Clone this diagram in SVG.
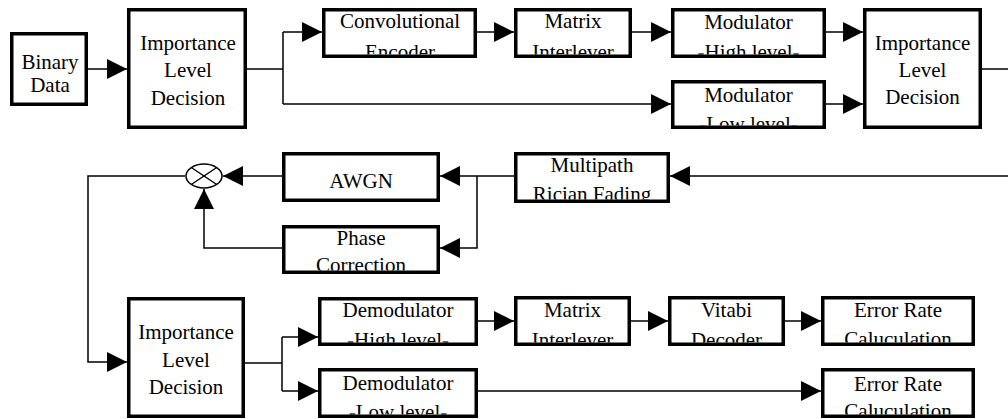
<svg xmlns="http://www.w3.org/2000/svg" width="1008" height="419" viewBox="0 0 1008 419">
<style>
.box{fill:#fff;stroke:#000;stroke-width:3.5}
.t{font-family:'Times New Roman','Liberation Serif','DejaVu Serif',serif;font-size:21px;fill:#000;text-anchor:middle}
.ln{fill:none;stroke:#000;stroke-width:1.5}
.ar{marker-end:url(#ah)}
</style>
<defs>
<marker id="ah" markerUnits="userSpaceOnUse" markerWidth="20" markerHeight="20" refX="20" refY="10" orient="auto" overflow="visible">
<path d="M0,0 L20,10 L0,20 Z" fill="#000"/>
</marker>
<clipPath id="c3"><rect x="325.5" y="11.5" width="148" height="43"/></clipPath>
<clipPath id="c4"><rect x="517.5" y="11.5" width="111" height="43"/></clipPath>
<clipPath id="c5"><rect x="674.5" y="11.5" width="148" height="43"/></clipPath>
<clipPath id="c6"><rect x="674.5" y="83.5" width="148" height="42"/></clipPath>
<clipPath id="c8"><rect x="517.5" y="155.5" width="149" height="44"/></clipPath>
<clipPath id="c10"><rect x="285.5" y="228.5" width="151" height="42"/></clipPath>
<clipPath id="c12"><rect x="321.5" y="300.5" width="153" height="42"/></clipPath>
<clipPath id="c13"><rect x="321.5" y="371.5" width="153" height="43"/></clipPath>
<clipPath id="c14"><rect x="517.5" y="299.5" width="110" height="43"/></clipPath>
<clipPath id="c15"><rect x="671.5" y="299.5" width="110" height="43"/></clipPath>
<clipPath id="c16"><rect x="824.5" y="299.5" width="147" height="43"/></clipPath>
<clipPath id="c17"><rect x="824.5" y="371.5" width="147" height="43"/></clipPath>
</defs>

<g id="connectors">
<line class="ln ar" x1="88" y1="69" x2="127" y2="69"/>
<polyline class="ln" points="247,69 283,69"/>
<line class="ln" x1="283" y1="32" x2="283" y2="104"/>
<line class="ln ar" x1="283" y1="32" x2="322" y2="32"/>
<line class="ln ar" x1="283" y1="104" x2="671" y2="104"/>
<line class="ln ar" x1="477" y1="32" x2="514" y2="32"/>
<line class="ln ar" x1="632" y1="32" x2="671" y2="32"/>
<line class="ln ar" x1="826" y1="32" x2="863" y2="32"/>
<line class="ln ar" x1="826" y1="104" x2="863" y2="104"/>
<line class="ln" x1="982" y1="69" x2="1008" y2="69"/>
<line class="ln ar" x1="1008" y1="176" x2="670" y2="176"/>
<line class="ln ar" x1="514" y1="176" x2="440" y2="176"/>
<polyline class="ln ar" points="477,176 477,248 440,248"/>
<line class="ln ar" x1="282" y1="176" x2="223" y2="176"/>
<polyline class="ln ar" points="282,248 204,248 204,189"/>
<polyline class="ln ar" points="185,176 88,176 88,362 127,362"/>
<line class="ln" x1="245" y1="363" x2="282" y2="363"/>
<line class="ln" x1="282" y1="337" x2="282" y2="391"/>
<line class="ln ar" x1="282" y1="337" x2="318" y2="337"/>
<line class="ln ar" x1="282" y1="391" x2="318" y2="391"/>
<line class="ln ar" x1="478" y1="321" x2="514" y2="321"/>
<line class="ln ar" x1="631" y1="321" x2="668" y2="321"/>
<line class="ln ar" x1="785" y1="321" x2="821" y2="321"/>
<line class="ln ar" x1="478" y1="391" x2="821" y2="391"/>
</g>

<g id="mixer">
<ellipse cx="204" cy="176" rx="18" ry="12" fill="#fff" stroke="#000" stroke-width="1.5"/>
<line class="ln" x1="191.3" y1="167.5" x2="216.7" y2="184.5"/>
<line class="ln" x1="191.3" y1="184.5" x2="216.7" y2="167.5"/>
</g>

<g id="binary-data">
<rect class="box" x="11.75" y="33.75" width="74.5" height="70.5"/>
<text class="t"><tspan x="50" y="69">Binary</tspan><tspan x="50" y="92">Data</tspan></text>
</g>

<g id="ild-tx1">
<rect class="box" x="128.75" y="9.75" width="116.5" height="117.5"/>
<text class="t"><tspan x="188" y="50">Importance</tspan><tspan x="188" y="77">Level</tspan><tspan x="188" y="105">Decision</tspan></text>
</g>

<g id="conv-encoder">
<rect class="box" x="323.75" y="9.75" width="151.5" height="46.5"/>
<text class="t" clip-path="url(#c3)"><tspan x="400" y="28">Convolutional</tspan><tspan x="400" y="59">Encoder</tspan></text>
</g>

<g id="matrix-interlever-tx">
<rect class="box" x="515.75" y="9.75" width="114.5" height="46.5"/>
<text class="t" clip-path="url(#c4)"><tspan x="573" y="28">Matrix</tspan><tspan x="573" y="59">Interlever</tspan></text>
</g>

<g id="modulator-high">
<rect class="box" x="672.75" y="9.75" width="151.5" height="46.5"/>
<text class="t" clip-path="url(#c5)"><tspan x="748.5" y="29">Modulator</tspan><tspan x="748.5" y="59">-High level-</tspan></text>
</g>

<g id="modulator-low">
<rect class="box" x="672.75" y="81.75" width="151.5" height="45.5"/>
<text class="t" clip-path="url(#c6)"><tspan x="748.5" y="102">Modulator</tspan><tspan x="748.5" y="131">-Low level-</tspan></text>
</g>

<g id="ild-tx2">
<rect class="box" x="864.75" y="9.75" width="115.5" height="117.5"/>
<text class="t"><tspan x="922.5" y="50">Importance</tspan><tspan x="922.5" y="77">Level</tspan><tspan x="922.5" y="104">Decision</tspan></text>
</g>

<g id="multipath">
<rect class="box" x="515.75" y="153.75" width="152.5" height="47.5"/>
<text class="t" clip-path="url(#c8)"><tspan x="592" y="172">Multipath</tspan><tspan x="592" y="201">Rician Fading</tspan></text>
</g>

<g id="awgn">
<rect class="box" x="283.75" y="153.75" width="154.5" height="46.5"/>
<text class="t" x="361" y="188">AWGN</text>
</g>

<g id="phase-correction">
<rect class="box" x="283.75" y="226.75" width="154.5" height="45.5"/>
<text class="t" clip-path="url(#c10)"><tspan x="361" y="245">Phase</tspan><tspan x="361" y="272">Correction</tspan></text>
</g>

<g id="ild-rx">
<rect class="box" x="128.75" y="298.75" width="114.5" height="117.5"/>
<text class="t"><tspan x="186" y="339">Importance</tspan><tspan x="186" y="367">Level</tspan><tspan x="186" y="394">Decision</tspan></text>
</g>

<g id="demod-high">
<rect class="box" x="319.75" y="298.75" width="156.5" height="45.5"/>
<text class="t" clip-path="url(#c12)"><tspan x="398" y="317">Demodulator</tspan><tspan x="398" y="347">-High level-</tspan></text>
</g>

<g id="demod-low">
<rect class="box" x="319.75" y="369.75" width="156.5" height="46.5"/>
<text class="t" clip-path="url(#c13)"><tspan x="398" y="390">Demodulator</tspan><tspan x="398" y="419">-Low level-</tspan></text>
</g>

<g id="matrix-interlever-rx">
<rect class="box" x="515.75" y="297.75" width="113.5" height="46.5"/>
<text class="t" clip-path="url(#c14)"><tspan x="572.5" y="317">Matrix</tspan><tspan x="572.5" y="347">Interlever</tspan></text>
</g>

<g id="vitabi-decoder">
<rect class="box" x="669.75" y="297.75" width="113.5" height="46.5"/>
<text class="t" clip-path="url(#c15)"><tspan x="726.5" y="317">Vitabi</tspan><tspan x="726.5" y="347">Decoder</tspan></text>
</g>

<g id="error-rate-1">
<rect class="box" x="822.75" y="297.75" width="150.5" height="46.5"/>
<text class="t" clip-path="url(#c16)"><tspan x="898" y="317">Error Rate</tspan><tspan x="898" y="346">Caluculation</tspan></text>
</g>

<g id="error-rate-2">
<rect class="box" x="822.75" y="369.75" width="150.5" height="46.5"/>
<text class="t" clip-path="url(#c17)"><tspan x="898" y="391">Error Rate</tspan><tspan x="898" y="418">Caluculation</tspan></text>
</g>
</svg>
